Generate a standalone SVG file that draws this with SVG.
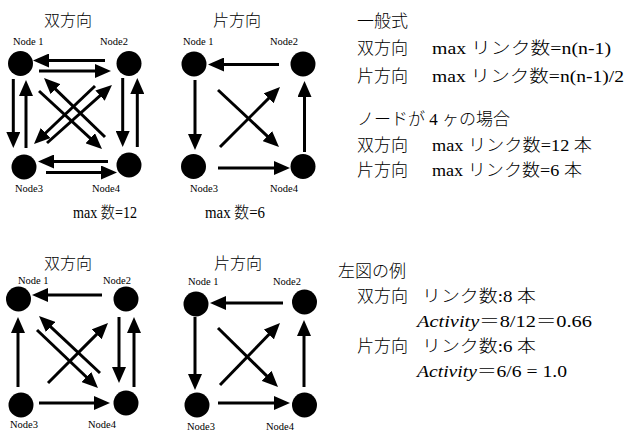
<svg xmlns="http://www.w3.org/2000/svg" width="626" height="432" viewBox="0 0 626 432">
<style>
.bg{fill:#fff}
.nd{fill:#000}
.lb{font-family:"Liberation Serif","Noto Sans CJK JP",serif;font-size:10.5px;fill:#000}
.tt{font-family:"Liberation Serif","Noto Sans CJK JP",serif;font-size:16px;font-weight:300;fill:#000}
.rt{font-family:"Liberation Serif","Noto Sans CJK JP",serif;font-size:17px;font-weight:300;fill:#000}
.ln{stroke:#000;stroke-width:3;fill:none;marker-end:url(#ah)}
.it{font-style:italic}
</style>
<defs>
<marker id="ah" viewBox="0 -7 16 14" refX="8" refY="0" markerWidth="16" markerHeight="14" markerUnits="userSpaceOnUse" orient="auto"><path d="M0,-7 L16,0 L0,7 z" fill="#000"/></marker>
</defs>
<rect class="bg" x="0" y="0" width="626" height="432"/>

<!-- Titles -->
<text class="tt" x="68" y="26" text-anchor="middle">双方向</text>
<text class="tt" x="237" y="26" text-anchor="middle">片方向</text>
<text class="tt" x="68" y="269" text-anchor="middle">双方向</text>
<text class="tt" x="238" y="269" text-anchor="middle">片方向</text>
<text class="tt" x="73" y="218" textLength="64" lengthAdjust="spacingAndGlyphs">max 数=12</text>
<text class="tt" x="205" y="218" textLength="60" lengthAdjust="spacingAndGlyphs">max 数=6</text>

<!-- Diagram A nodes -->
<g id="a-node1"><circle class="nd" cx="20.5" cy="63.5" r="12.5"/><text class="lb" x="13" y="45">Node 1</text></g>
<g id="a-node2"><circle class="nd" cx="129" cy="63.5" r="12.5"/><text class="lb" x="100" y="45">Node2</text></g>
<g id="a-node3"><circle class="nd" cx="24" cy="167" r="12.5"/><text class="lb" x="15" y="192">Node3</text></g>
<g id="a-node4"><circle class="nd" cx="129" cy="165" r="12.5"/><text class="lb" x="92" y="192">Node4</text></g>

<!-- Diagram B nodes -->
<g id="b-node1"><circle class="nd" cx="194" cy="64" r="12.5"/><text class="lb" x="183" y="45">Node 1</text></g>
<g id="b-node2"><circle class="nd" cx="303" cy="64" r="12.5"/><text class="lb" x="270" y="45">Node2</text></g>
<g id="b-node3"><circle class="nd" cx="193.5" cy="166.5" r="12.5"/><text class="lb" x="190" y="192">Node3</text></g>
<g id="b-node4"><circle class="nd" cx="303" cy="166.5" r="12.5"/><text class="lb" x="270" y="192">Node4</text></g>

<!-- Diagram C nodes -->
<g id="c-node1"><circle class="nd" cx="18.5" cy="299" r="12.5"/><text class="lb" x="18" y="284">Node 1</text></g>
<g id="c-node2"><circle class="nd" cx="126" cy="299" r="12.5"/><text class="lb" x="103" y="284">Node2</text></g>
<g id="c-node3"><circle class="nd" cx="21" cy="405" r="12.5"/><text class="lb" x="10" y="428">Node3</text></g>
<g id="c-node4"><circle class="nd" cx="126" cy="403" r="12.5"/><text class="lb" x="88" y="428">Node4</text></g>

<!-- Diagram D nodes -->
<g id="d-node1"><circle class="nd" cx="196" cy="304" r="12.5"/><text class="lb" x="188" y="285">Node 1</text></g>
<g id="d-node2"><circle class="nd" cx="304.5" cy="302" r="12.5"/><text class="lb" x="273" y="285">Node2</text></g>
<g id="d-node3"><circle class="nd" cx="197" cy="405" r="12.5"/><text class="lb" x="187" y="430">Node3</text></g>
<g id="d-node4"><circle class="nd" cx="304.5" cy="405" r="12.5"/><text class="lb" x="266" y="430">Node4</text></g>

<g id="connectors">
<!-- A -->
<path class="ln" d="M105,60.5 L41,60.5"/>
<path class="ln" d="M39,71 L103,71"/>
<path class="ln" d="M13.3,79 L13.3,140"/>
<path class="ln" d="M26,148 L26,88"/>
<path class="ln" d="M122.7,78 L122.7,139"/>
<path class="ln" d="M137.3,147 L137.3,86"/>
<path class="ln" d="M108,161.5 L46,161.5"/>
<path class="ln" d="M46,172.5 L109,172.5"/>
<path class="ln" d="M39,91 L96.1,143.6"/>
<path class="ln" d="M105,137 L49.75,83.56"/>
<path class="ln" d="M95,86 L39.8,138.5"/>
<path class="ln" d="M47,143 L106,90.3"/>
<!-- B -->
<path class="ln" d="M279,64.5 L216,64.5"/>
<path class="ln" d="M195,80 L195,142"/>
<path class="ln" d="M218,168 L282,168"/>
<path class="ln" d="M304.5,152 L304.5,89"/>
<path class="ln" d="M218,90 L273.15,141.54"/>
<path class="ln" d="M220,147 L274.34,92.66"/>
<!-- C -->
<path class="ln" d="M102,295 L40,295"/>
<path class="ln" d="M18,387 L18,325"/>
<path class="ln" d="M119,317 L119,375"/>
<path class="ln" d="M134,387 L134,325"/>
<path class="ln" d="M39,403 L102,403"/>
<path class="ln" d="M37,330 L92.2,382.5"/>
<path class="ln" d="M100,373 L44.85,321.46"/>
<path class="ln" d="M48,383 L102.34,328.66"/>
<!-- D -->
<path class="ln" d="M283,303 L218,303"/>
<path class="ln" d="M195,317 L195,382"/>
<path class="ln" d="M218,403 L282,403"/>
<path class="ln" d="M304,387 L304,328"/>
<path class="ln" d="M218,328 L272.3,381.4"/>
<path class="ln" d="M220,385 L274.44,328.74"/>
</g>

<!-- Right-side text -->
<g id="formula-text">
<text class="rt" x="357" y="27">一般式</text>
<text class="rt" x="357" y="54">双方向</text>
<text class="rt" x="432" y="54" textLength="179" lengthAdjust="spacingAndGlyphs">max リンク数=n(n-1)</text>
<text class="rt" x="357" y="82">片方向</text>
<text class="rt" x="432" y="82" textLength="192" lengthAdjust="spacingAndGlyphs">max リンク数=n(n-1)/2</text>
<text class="rt" x="357" y="125">ノードが 4 ヶの場合</text>
<text class="rt" x="357" y="151">双方向</text>
<text class="rt" x="432" y="151" textLength="160" lengthAdjust="spacingAndGlyphs">max リンク数=12 本</text>
<text class="rt" x="357" y="176">片方向</text>
<text class="rt" x="432" y="176" textLength="150" lengthAdjust="spacingAndGlyphs">max リンク数=6 本</text>
</g>
<g id="example-text">
<text class="rt" x="338" y="277">左図の例</text>
<text class="rt" x="357" y="302">双方向</text>
<text class="rt" x="422" y="302" textLength="114" lengthAdjust="spacingAndGlyphs">リンク数:8 本</text>
<text class="rt" x="417" y="327" textLength="175" lengthAdjust="spacingAndGlyphs"><tspan class="it">Activity</tspan>＝8/12＝0.66</text>
<text class="rt" x="357" y="352">片方向</text>
<text class="rt" x="422" y="352" textLength="114" lengthAdjust="spacingAndGlyphs">リンク数:6 本</text>
<text class="rt" x="417" y="377" textLength="150" lengthAdjust="spacingAndGlyphs"><tspan class="it">Activity</tspan>＝6/6 = 1.0</text>
</g>
</svg>
